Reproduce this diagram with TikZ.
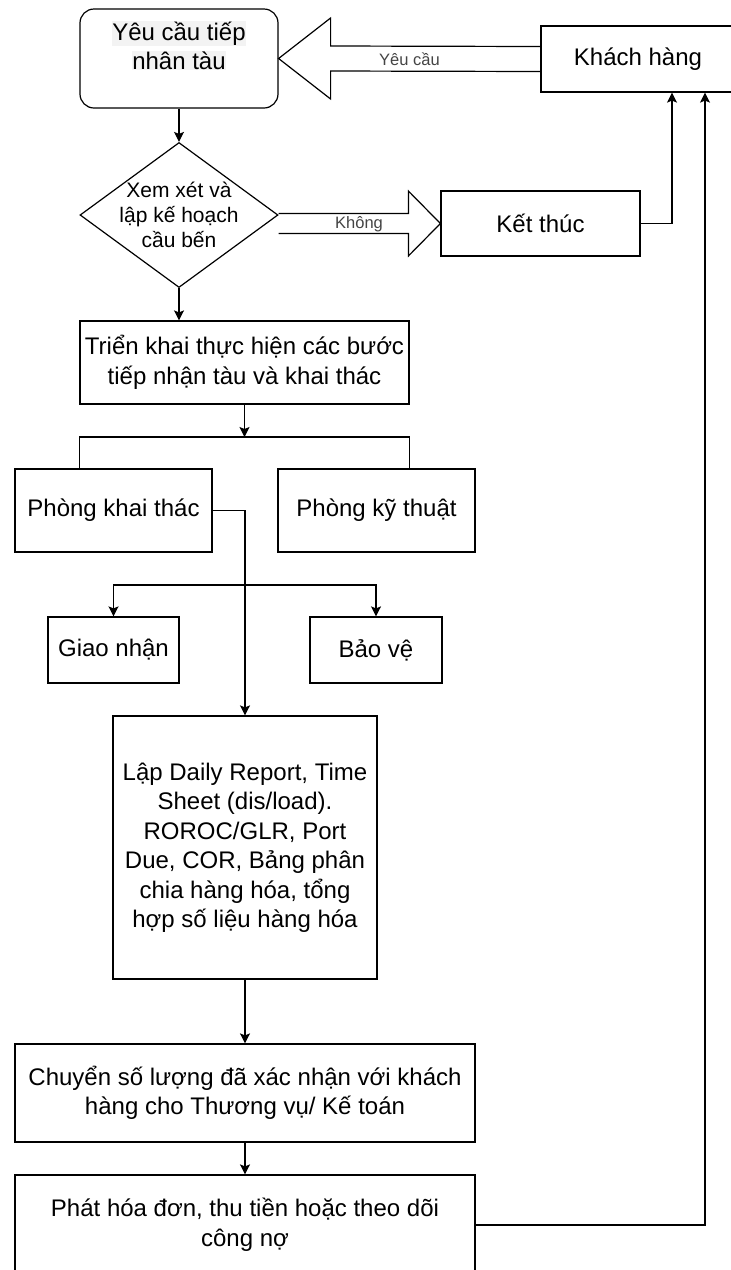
\documentclass[tikz,border=0pt]{standalone}
\usepackage{fontspec}
\setmainfont{Liberation Sans}
\usepackage{xcolor}
\usepackage{tikz}
\usetikzlibrary{arrows.meta,shapes.geometric,calc}
\definecolor{hlgray}{HTML}{F3F3F3}
\definecolor{lblgray}{HTML}{444444}

\begin{document}
\begin{tikzpicture}[x=1pt,y=-1pt,
box/.style={draw,line width=1.2pt,fill=white,align=center,inner sep=0pt,font=\fontsize{24}{29.5}\selectfont},
roundbox/.style={box,rounded corners=14pt},
decision/.style={diamond,draw,line width=1.2pt,inner sep=0pt,minimum width=198pt,minimum height=145pt},
myedge/.style={-{Stealth[length=10pt,width=10pt,inset=2pt]},line width=1.2pt},
plainedge/.style={line width=1.2pt},
bigarrow/.style={line width=1.2pt,line join=miter},
lbl/.style={text=lblgray,inner sep=0pt,font=\fontsize{16.5}{19}\selectfont}]
\useasboundingbox (0,0) rectangle (731,1270);
\setlength{\fboxsep}{0.5pt}
\node[roundbox,minimum width=198pt,minimum height=99pt] (req) at (179,58.5)
  {\colorbox{hlgray}{Yêu cầu tiếp}\\\colorbox{hlgray}{nhân tàu}\\[-12pt]\strut};
\node[box,minimum width=194pt,minimum height=66pt] (kh) at (638,59) {Khách hàng};
\node[decision] (dia) at (179,215) {};
\node[align=center,inner sep=0pt,font=\fontsize{21}{25}\selectfont] (diaText) at (dia.center)
  {Xem xét và\\lập kế hoạch\\cầu bến};
\node[box,minimum width=199pt,minimum height=65pt] (ket) at (540.5,223.5) {Kết thúc};
\node[box,minimum width=329pt,minimum height=83pt] (trien) at (244.5,362.5)
  {Triển khai thực hiện các bước\\tiếp nhận tàu và khai thác};
\node[box,minimum width=197pt,minimum height=83pt] (pkt) at (113.5,510.5) {Phòng khai thác};
\node[box,minimum width=197pt,minimum height=83pt] (pkyt) at (376.5,510.5) {Phòng kỹ thuật};
\node[box,minimum width=131pt,minimum height=66pt] (gn) at (113.5,650) {Giao nhận};
\node[box,minimum width=132pt,minimum height=66pt] (bv) at (376,650) {Bảo vệ};
\node[box,minimum width=264pt,minimum height=263pt] (lap) at (245,847.5)
  {Lập Daily Report, Time\\Sheet (dis/load).\\ROROC/GLR, Port\\Due, COR, Bảng phân\\chia hàng hóa, tổng\\hợp số liệu hàng hóa};
\node[box,minimum width=460pt,minimum height=98pt] (chuyen) at (245,1093)
  {Chuyển số lượng đã xác nhận với khách\\hàng cho Thương vụ/ Kế toán};
\node[box,minimum width=460pt,minimum height=100pt] (phat) at (245,1225)
  {Phát hóa đơn, thu tiền hoặc theo dõi\\công nợ};
% block arrows
\draw[bigarrow] ($(kh.west)+(0,-12.5)$) -- ($(req.east)+(52,-12.5)$) -- ($(req.east)+(52,-40.5)$)
  -- (req.east) -- ($(req.east)+(52,40.5)$) -- ($(req.east)+(52,12.5)$) -- ($(kh.west)+(0,12.5)$);
\node[lbl] (lblReq) at ($(req.east)!0.5!(kh.west)$) {Yêu cầu};
\draw[bigarrow] (dia.east |- 0,213.5) -- ($(ket.west)+(-32,-10)$) -- ($(ket.west)+(-32,-32.5)$)
  -- (ket.west) -- ($(ket.west)+(-32,32.5)$) -- ($(ket.west)+(-32,10)$) -- (dia.east |- 0,233.5);
\node[lbl] (lblNo) at (359,224) {Không};
% connectors
\coordinate (split) at (trien.south |- 0,437);
\coordinate (split2) at (lap.north |- 0,585);
\draw[myedge] (req.south) -- (dia.north);
\draw[myedge] (dia.south) -- (dia.south |- trien.north);
\draw[myedge] (trien.south) -- (split);
\draw[plainedge] (trien.west |- pkt.north) -- (trien.west |- split) -- (trien.east |- split) -- (trien.east |- pkyt.north);
\draw[myedge] (pkt.east) -| (lap.north);
\draw[myedge] (split2) -| (gn.north);
\draw[myedge] (split2) -| (bv.north);
\draw[myedge] (lap.south) -- (chuyen.north);
\draw[myedge] (chuyen.south) -- (phat.north);
\draw[myedge] (ket.east) -| ($(kh.south)+(34,0)$);
\draw[myedge] (phat.east) -| ($(kh.south)+(67,0)$);
\end{tikzpicture}
\end{document}
